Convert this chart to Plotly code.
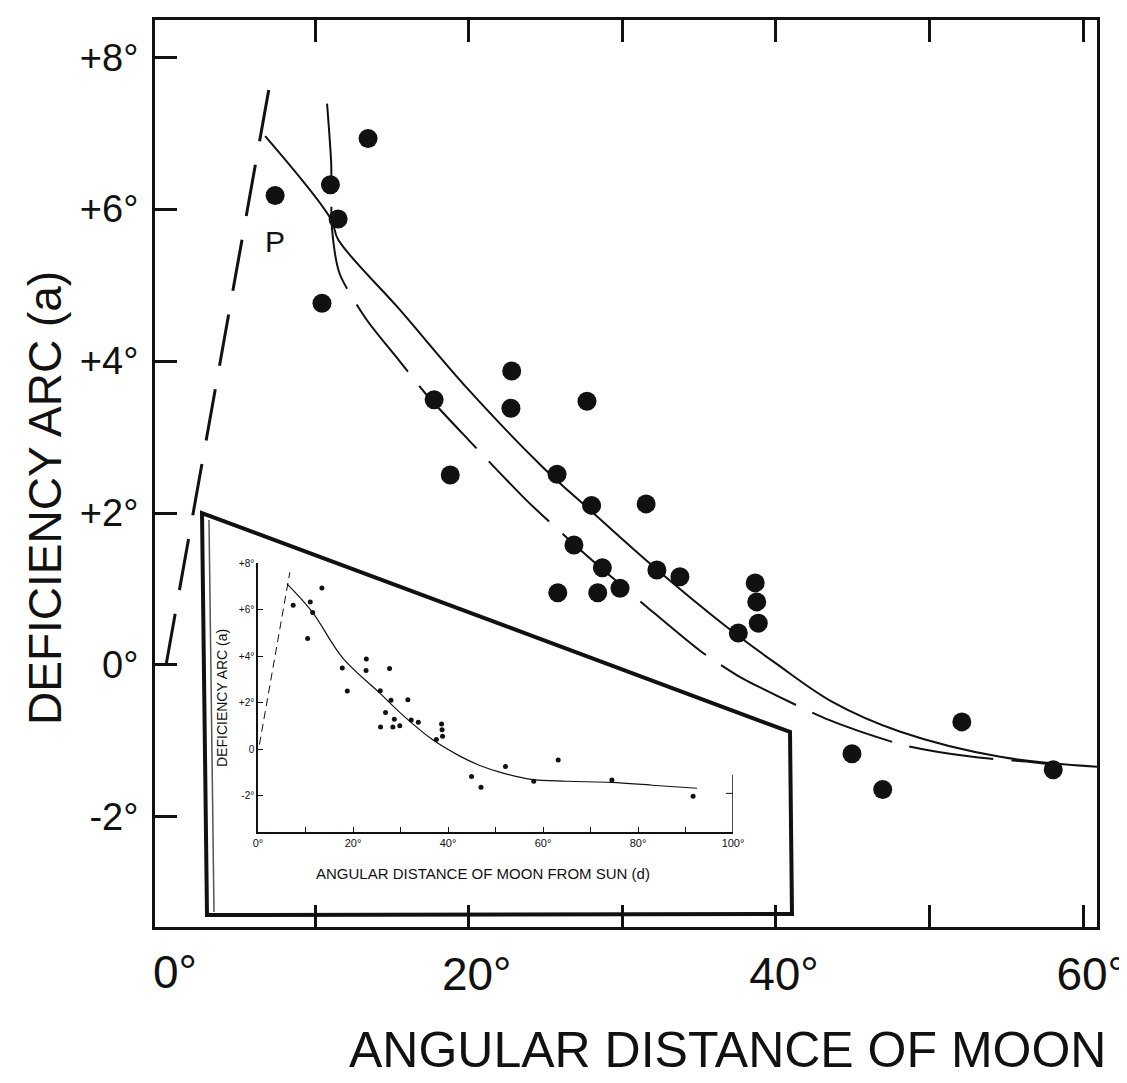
import plotly.graph_objects as go

# ---- main observations (angular distance of moon, deficiency arc) ----
obs_x = [7.4, 11.0, 11.5, 13.45, 10.45, 17.75, 22.8, 22.75, 27.7, 18.8, 25.75, 28.0, 31.55,
         26.85, 28.7, 32.25, 33.75, 25.8, 28.4, 29.85, 38.65, 38.75, 38.85, 37.55, 52.1,
         44.95, 46.95, 58.05]
obs_y = [6.18, 6.32, 5.87, 6.93, 4.76, 3.49, 3.87, 3.38, 3.47, 2.5, 2.51, 2.1, 2.12,
         1.58, 1.28, 1.25, 1.16, 0.95, 0.95, 1.01, 1.08, 0.83, 0.55, 0.42, -0.75,
         -1.17, -1.64, -1.38]
# extra observations only visible in the inset (beyond 60 deg)
extra_x = [63.2, 74.5, 91.6]
extra_y = [-0.47, -1.33, -2.02]

# upper solid curve
upper_x = [6.75, 11.05, 11.5, 15.5, 20.0, 24.84, 28.0, 32.0, 36.8, 40.0, 43.7, 48.1, 54.6, 60.9]
upper_y = [6.96, 5.86, 5.6, 4.68, 3.62, 2.6, 2.02, 1.3, 0.5, 0.02, -0.49, -0.88, -1.21, -1.34]
# lower long-dashed curve
lower_x = [10.78, 11.05, 11.1, 11.6, 13.37, 15.5, 17.2, 20.0, 23.8, 26.8, 29.4, 31.5, 35.1,
           37.5, 39.0, 43.4, 48.4, 52.8, 56.7, 58.5]
lower_y = [7.39, 6.6, 5.75, 5.15, 4.54, 4.0, 3.57, 2.96, 2.16, 1.6, 1.14, 0.78, 0.18,
           -0.14, -0.3, -0.72, -1.06, -1.21, -1.28, -1.32]
# straight dashed line near origin
dline_x = [0.3, 7.1]
dline_y = [0.0, 7.7]

# inset curves
icurve_x = [6.1, 11.4, 17.9, 25.7, 30.0, 36.8, 42.5, 46.7, 51.6, 57.5, 65.0, 74.5, 83.0, 92.4]
icurve_y = [7.1, 5.9, 3.9, 2.4, 1.55, 0.4, -0.3, -0.7, -1.03, -1.3, -1.38, -1.43, -1.55, -1.68]
idline_x = [0.3, 6.7]
idline_y = [0.2, 7.6]

# tick labels
main_xticks = [10, 20, 30, 40, 50, 60]
main_xtext = ["", "20°", "", "40°", "", "60°"]
main_yticks = [-2, 0, 2, 4, 6, 8]
main_ytext = ["-2°", "0°", "+2°", "+4°", "+6°", "+8°"]
inset_xticks = [0, 10, 20, 30, 40, 50, 60, 70, 80, 90, 100]
inset_xtext = ["0°", "", "20°", "", "40°", "", "60°", "", "80°", "", "100°"]
inset_yticks = [-2, 0, 2, 4, 6, 8]
inset_ytext = ["-2°", "0", "+2°", "+4°", "+6°", "+8°"]

FONT = "Liberation Sans"
BLACK = "#111111"
OFF = 8  # page body margin

fig = go.Figure()

# main chart
fig.add_trace(go.Scatter(x=dline_x, y=dline_y, mode="lines",
                         line=dict(color=BLACK, width=3, dash="52px,24px"),
                         showlegend=False, hoverinfo="skip"))
fig.add_trace(go.Scatter(x=upper_x, y=upper_y, mode="lines",
                         line=dict(color=BLACK, width=2, shape="spline", smoothing=1.0),
                         showlegend=False))
fig.add_trace(go.Scatter(x=lower_x, y=lower_y, mode="lines",
                         line=dict(color=BLACK, width=2, shape="spline", smoothing=0.7,
                                   dash="85px,18px"),
                         showlegend=False))
fig.add_trace(go.Scatter(x=obs_x, y=obs_y, mode="markers",
                         marker=dict(color=BLACK, size=19, symbol="circle"),
                         showlegend=False))

# inset chart
fig.add_trace(go.Scatter(x=idline_x, y=idline_y, mode="lines", xaxis="x2", yaxis="y2",
                         line=dict(color=BLACK, width=1, dash="8px,5px"),
                         showlegend=False))
fig.add_trace(go.Scatter(x=icurve_x, y=icurve_y, mode="lines", xaxis="x2", yaxis="y2",
                         line=dict(color=BLACK, width=1.2, shape="spline", smoothing=1.0),
                         showlegend=False))
fig.add_trace(go.Scatter(x=obs_x + extra_x, y=obs_y + extra_y, mode="markers",
                         xaxis="x2", yaxis="y2",
                         marker=dict(color=BLACK, size=5),
                         showlegend=False))

# plot area in page pixels: x 155..1097, y 20..927
def px(xp):
    return (xp - 155) / 942.0

def py(yp):
    return (927 - yp) / 907.0

poly = [(202, 513), (790, 732), (792, 914), (207, 915)]
path = "M " + " L ".join(f"{px(a):.4f},{py(b):.4f}" for a, b in poly) + " Z"

shapes = [
    dict(type="path", path=path, xref="paper", yref="paper",
         fillcolor="white", line=dict(color=BLACK, width=4), layer="below"),
    dict(type="line", xref="paper", yref="paper",
         x0=px(214), y0=py(912), x1=px(209), y1=py(520),
         line=dict(color="#555555", width=1.5), layer="below"),
    dict(type="line", xref="x2", yref="y2", x0=100, y0=-1.1, x1=100, y1=-3.56,
         line=dict(color=BLACK, width=1.5)),
    dict(type="line", xref="x2", yref="y2", x0=100, y0=-1.9, x1=98.5, y1=-1.9,
         line=dict(color=BLACK, width=1)),
]

annotations = [
    dict(text="0°", xref="x", yref="paper", x=0, y=0, xshift=14, yshift=-17,
         showarrow=False, xanchor="center", yanchor="top",
         font=dict(family=FONT, size=46, color=BLACK)),
    dict(text="DEFICIENCY ARC (a)", xref="paper", yref="paper", x=px(45), y=py(498),
         textangle=-90, showarrow=False, xanchor="center", yanchor="middle",
         font=dict(family=FONT, size=46, color=BLACK)),
    dict(text="ANGULAR DISTANCE OF MOON", xref="paper", yref="paper", x=px(727), y=py(1050),
         showarrow=False, xanchor="center", yanchor="middle",
         font=dict(family=FONT, size=50, color=BLACK)),
    dict(text="P", xref="x", yref="y", x=7.4, y=5.58, showarrow=False,
         font=dict(family=FONT, size=30, color=BLACK)),
    dict(text="DEFICIENCY ARC (a)", xref="paper", yref="paper", x=px(222), y=py(698),
         textangle=-90, showarrow=False, xanchor="center", yanchor="middle",
         font=dict(family=FONT, size=14, color=BLACK)),
    dict(text="ANGULAR DISTANCE OF MOON FROM SUN (d)", xref="paper", yref="paper",
         x=px(483), y=py(873), showarrow=False, xanchor="center", yanchor="middle",
         font=dict(family=FONT, size=15, color=BLACK)),
]

fig.update_layout(
    width=1127 - OFF, height=1083 - OFF,
    margin=dict(l=155 - OFF, r=30, t=20 - OFF, b=156, autoexpand=False),
    paper_bgcolor="white", plot_bgcolor="rgba(0,0,0,0)",
    showlegend=False,
    font=dict(family=FONT, color=BLACK),
    xaxis=dict(range=[-0.42, 60.9], tickvals=main_xticks, ticktext=main_xtext,
               ticks="inside", ticklen=22, tickwidth=2.5, tickcolor=BLACK,
               showline=True, linewidth=3, linecolor=BLACK, mirror="ticks",
               showgrid=False, zeroline=False,
               tickfont=dict(family=FONT, size=46, color=BLACK),
               ticklabelstandoff=5, ticklabelshift=8),
    yaxis=dict(range=[-3.45, 8.49], tickvals=main_yticks, ticktext=main_ytext,
               ticks="inside", ticklen=22, tickwidth=2.5, tickcolor=BLACK,
               showline=True, linewidth=3, linecolor=BLACK, mirror=True,
               showgrid=False, zeroline=False,
               tickfont=dict(family=FONT, size=38, color=BLACK),
               ticklabelstandoff=6),
    xaxis2=dict(domain=[px(258), px(733)], anchor="y2", range=[0, 100],
                tickvals=inset_xticks, ticktext=inset_xtext,
                ticks="inside", ticklen=5, tickwidth=1, tickcolor=BLACK,
                showline=True, linewidth=1.5, linecolor=BLACK,
                showgrid=False, zeroline=False,
                tickfont=dict(family=FONT, size=11, color=BLACK)),
    yaxis2=dict(domain=[py(832), py(563)], anchor="x2", range=[-3.56, 8.0],
                tickvals=inset_yticks, ticktext=inset_ytext,
                ticks="inside", ticklen=5, tickwidth=1, tickcolor=BLACK,
                showline=True, linewidth=1.5, linecolor=BLACK,
                showgrid=False, zeroline=False,
                tickfont=dict(family=FONT, size=10, color=BLACK)),
    shapes=shapes,
    annotations=annotations,
)

fig.write_html("out.html")
